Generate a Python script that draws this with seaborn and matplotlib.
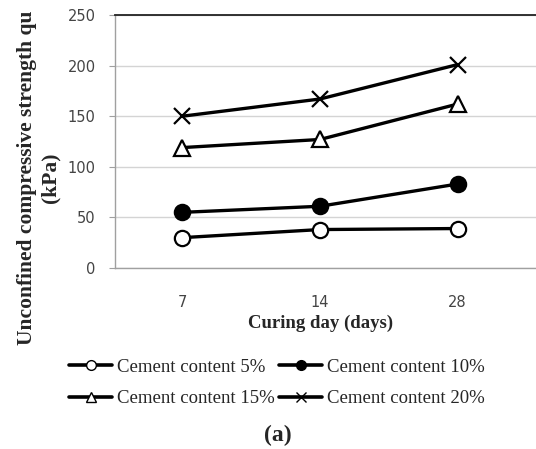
import pandas as pd
import numpy as np
import matplotlib
matplotlib.use("Agg")
import matplotlib.pyplot as plt
import seaborn as sns
from matplotlib.lines import Line2D

days = ['7', '14', '28']
labels = ['Cement content 5%', 'Cement content 10%', 'Cement content 15%', 'Cement content 20%']
c5 = [30, 38, 39]
c10 = [55, 61, 83]
c15 = [119, 127, 162]
c20 = [150, 167, 201]
yticks = [0, 50, 100, 150, 200, 250]

markers = ['o', 'o', '^', 'x']
faces = ['white', 'black', 'white', 'black']

df = pd.DataFrame({
    'day': days * 4,
    'qu': c5 + c10 + c15 + c20,
    'series': np.repeat(labels, len(days)),
})

sns.set_style('white')
serif = ['Liberation Serif', 'DejaVu Serif']

fig = plt.figure(figsize=(5.36, 4.49), dpi=100)
ax = fig.add_axes([115 / 536, 1 - 268 / 449, 421 / 536, 253 / 449])

for lab, m, fc in zip(labels, markers, faces):
    sub = df[df['series'] == lab]
    sns.lineplot(data=sub, x='day', y='qu', ax=ax, color='black', lw=2.4,
                 marker=m, markersize=11, markerfacecolor=fc,
                 markeredgecolor='black', markeredgewidth=1.6, sort=False,
                 legend=False, zorder=3)

ax.set_ylim(0, 250)
ax.set_xlim(-0.49, 2.57)
ax.set_yticks(yticks)
ax.yaxis.grid(True, color='#d4d4d4', lw=1)
ax.xaxis.grid(False)
ax.set_axisbelow(True)

for s in ['left', 'bottom']:
    ax.spines[s].set_color('#a0a0a0')
    ax.spines[s].set_linewidth(1)
ax.spines['right'].set_visible(False)
ax.spines['top'].set_color('#222222')
ax.spines['top'].set_linewidth(1.3)

ax.tick_params(axis='y', left=True, length=4, color='#a0a0a0', pad=10,
               labelsize=10.5, labelcolor='#444444')
ax.tick_params(axis='x', bottom=False, pad=16, labelsize=10.5, labelcolor='#444444')

ax.set_xlabel('')
ax.set_ylabel('')
fig.text(321 / 536, 1 - 323 / 449, 'Curing day (days)', ha='center', va='center',
         family=serif, fontweight='bold', fontsize=13.5)
fig.text(39 / 536, 1 - 178 / 449, 'Unconfined compressive strength qu\n(kPa)',
         ha='center', va='center', rotation=90, multialignment='center',
         family=serif, fontweight='bold', fontsize=15.5, linespacing=1.25)
fig.text(278 / 536, 1 - 435 / 449, '(a)', ha='center', va='center',
         family=serif, fontweight='bold', fontsize=17)

handles = [Line2D([], [], color='black', lw=2.6, marker=m, markersize=7,
                  markerfacecolor=fc, markeredgecolor='black', markeredgewidth=1)
           for m, fc in zip(markers, faces)]
# row-major order for a two-column legend
order = [0, 2, 1, 3]
fig.legend([handles[i] for i in order], [labels[i] for i in order], ncol=2,
           loc='center', bbox_to_anchor=(277 / 536, 1 - 383 / 449),
           frameon=False, prop={'family': serif, 'size': 13.5}, handlelength=2.3,
           handletextpad=0.25, columnspacing=0.25, labelspacing=0.75)

fig.savefig('out.png', dpi=100)
